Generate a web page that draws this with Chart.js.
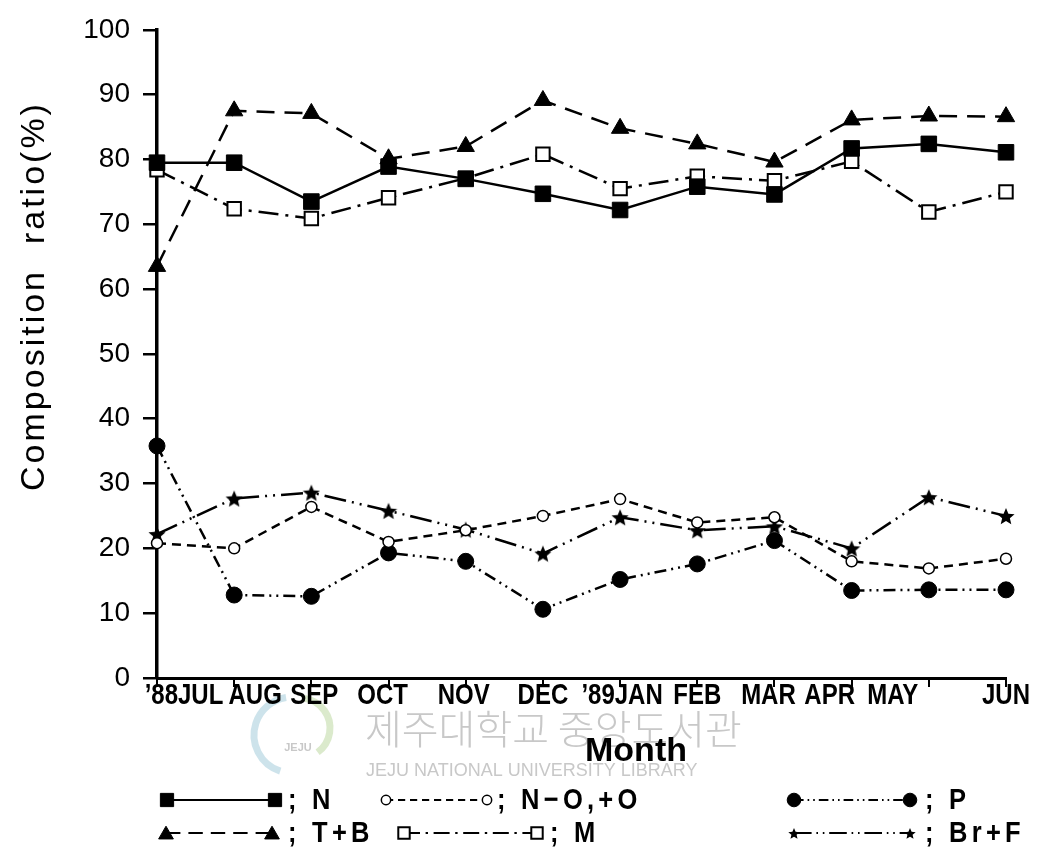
<!DOCTYPE html>
<html>
<head>
<meta charset="utf-8">
<script src="https://cdn.jsdelivr.net/npm/chart.js@4.4.1/dist/chart.umd.min.js"></script>
<style>
  html, body { margin: 0; padding: 0; background: #fff; }
</style>
</head>
<body>
<canvas id="chart" width="1047" height="852"></canvas>
<script>
// values (composition ratio, %)
const months   = ['’88JUL', 'AUG', 'SEP', 'OCT', 'NOV', 'DEC', '’89JAN', 'FEB', 'MAR', 'APR', 'MAY', 'JUN'];
const nValues  = [79.5, 79.5, 73.5, 78.9, 77.0, 74.7, 72.2, 75.8, 74.6, 81.7, 82.4, 81.1];
const tbValues = [63.5, 87.5, 87.1, 80.1, 82.0, 89.1, 84.8, 82.4, 79.6, 86.1, 86.7, 86.6];
const mValues  = [78.4, 72.4, 70.9, 74.1, 77.1, 80.8, 75.5, 77.4, 76.7, 79.7, 71.9, 75.0];
const noValues = [20.8, 20.0, 26.4, 21.0, 22.8, 25.0, 27.6, 24.0, 24.8, 18.0, 16.9, 18.4];
const pValues  = [35.8, 12.8, 12.6, 19.3, 18.0, 10.6, 15.2, 17.6, 21.2, 13.5, 13.6, 13.6];
const bfValues = [22.2, 27.7, 28.6, 25.8, 22.9, 19.2, 24.8, 22.8, 23.4, 20.0, 27.9, 25.0];
const yTicks   = [0, 10, 20, 30, 40, 50, 60, 70, 80, 90, 100];

// the typed month labels sit a little off their ticks in the original
const labelNudge = [27, 21, 3, -6, -2, 0, 2, 0, -6, -22, -36, 0];

const SANS = '"Liberation Sans", Arial, Helvetica, sans-serif';

function makeStar(size) {
  const c = document.createElement('canvas');
  c.width = c.height = size;
  const g = c.getContext('2d');
  const cx = size / 2, cy = size / 2, ro = size / 2, ri = ro * 0.45;
  g.beginPath();
  for (let i = 0; i < 10; i++) {
    const r = i % 2 ? ri : ro;
    const a = -Math.PI / 2 + i * Math.PI / 5;
    g.lineTo(cx + r * Math.cos(a), cy + 1 + r * Math.sin(a));
  }
  g.closePath();
  g.fillStyle = '#000';
  g.fill();
  return c;
}
const star = makeStar(18);
const starSmall = makeStar(12);

function series(label, data, style, radius, fill, dash, borderW) {
  return {
    label, data,
    borderColor: '#000',
    borderWidth: 2.5,
    borderDash: dash,
    tension: 0,
    pointStyle: style,
    pointRadius: radius,
    pointBackgroundColor: fill,
    pointBorderColor: '#000',
    pointBorderWidth: borderW,
  };
}

const datasets = [
  series('N', nValues, 'rect', 11, '#000', [], 1),
  series('T+B', tbValues, 'triangle', 10, '#000', [18, 10], 1),
  series('M', mValues, 'rect', 9.5, '#fff', [20, 7, 3, 7], 2),
  series('N-O,+O', noValues, 'circle', 5.5, '#fff', [9, 6], 1.5),
  series('P', pValues, 'circle', 8, '#000', [12, 5, 2, 5, 2, 5], 1),
  series('Br+F', bfValues, star, 9, '#000', [22, 6, 2, 6, 2, 6], 1),
];

function marker(ctx, ds, x, y, k) {
  const r = ds.pointRadius * k;
  ctx.save();
  ctx.setLineDash([]);
  ctx.fillStyle = ds.pointBackgroundColor;
  ctx.strokeStyle = '#000';
  ctx.lineWidth = ds.pointBorderWidth;
  if (ds.pointStyle === star) {
    ctx.drawImage(starSmall, x - 6, y - 6);
  } else {
    ctx.beginPath();
    if (ds.pointStyle === 'rect') {
      const s = r * Math.SQRT1_2;
      ctx.rect(x - s, y - s, 2 * s, 2 * s);
    } else if (ds.pointStyle === 'triangle') {
      for (let i = 0; i < 3; i++) {
        const a = -Math.PI / 2 + i * 2 * Math.PI / 3;
        ctx.lineTo(x + r * Math.cos(a), y + r * Math.sin(a) + r * 0.2);
      }
      ctx.closePath();
    } else {
      ctx.arc(x, y, r, 0, Math.PI * 2);
    }
    ctx.fill();
    ctx.stroke();
  }
  ctx.restore();
}

// legend rows: [dataset index, line start, line end, text x, row y, text]
const legendItems = [
  [0, 167, 275, 288, 800, '; N'],
  [3, 386, 487, 497, 800, '; N−O,+O'],
  [4, 794, 910, 925, 800, '; P'],
  [1, 166, 272, 288, 833, '; T+B'],
  [2, 404, 537, 550, 833, '; M'],
  [5, 794, 910, 925, 833, '; Br+F'],
];

// draws text squeezed horizontally, like the condensed type of the scan
function narrowText(ctx, text, x, y, sx, align) {
  ctx.save();
  ctx.translate(x, y);
  ctx.scale(sx, 1);
  ctx.textAlign = align;
  ctx.fillText(text, 0, 0);
  ctx.restore();
}

const decor = {
  id: 'decor',
  beforeDraw(chart) {
    const ctx = chart.ctx;
    ctx.save();
    // faint library watermark from the scan
    ctx.globalAlpha = 0.5;
    ctx.strokeStyle = '#9cc7d8';
    ctx.lineWidth = 7;
    ctx.beginPath();
    ctx.arc(292, 735, 38, Math.PI * 0.6, Math.PI * 1.45);
    ctx.stroke();
    ctx.strokeStyle = '#b7d69a';
    ctx.beginPath();
    ctx.arc(300, 728, 30, Math.PI * 1.55, Math.PI * 0.3);
    ctx.stroke();
    ctx.globalAlpha = 1;
    ctx.fillStyle = '#c8c8c8';
    ctx.font = '300 40px "Noto Sans CJK KR", sans-serif';
    ctx.textAlign = 'left';
    ctx.textBaseline = 'middle';
    ctx.fillText('제주대학교 중앙도서관', 365, 729);
    ctx.font = '18px ' + SANS;
    ctx.fillText('JEJU NATIONAL UNIVERSITY LIBRARY', 366, 771);
    ctx.font = 'bold 11px ' + SANS;
    ctx.textAlign = 'center';
    ctx.fillText('JEJU', 298, 748);
    ctx.restore();
  },
  afterDraw(chart) {
    const ctx = chart.ctx;
    const xs = chart.scales.x;
    ctx.save();
    ctx.fillStyle = '#000';
    // month labels under the ticks
    ctx.font = 'bold 30px ' + SANS;
    ctx.textBaseline = 'alphabetic';
    chart.data.labels.forEach((lab, i) => {
      narrowText(ctx, lab, xs.getPixelForValue(i) + labelNudge[i], 704, 0.8, 'center');
    });
    // axis titles
    ctx.textAlign = 'center';
    ctx.textBaseline = 'middle';
    ctx.font = 'bold 34px ' + SANS;
    ctx.fillText('Month', 636, 752);
    ctx.save();
    ctx.translate(35, 296);
    ctx.rotate(-Math.PI / 2);
    ctx.font = '34px ' + SANS;
    ctx.letterSpacing = '3px';
    ctx.fillText('Composition  ratio(%)', 0, 0);
    ctx.restore();
    // legend
    ctx.font = 'bold 30px ' + SANS;
    ctx.textBaseline = 'middle';
    for (const [i, x1, x2, tx, y, text] of legendItems) {
      const ds = chart.data.datasets[i];
      ctx.save();
      ctx.strokeStyle = '#000';
      ctx.lineWidth = 2;
      ctx.setLineDash(ds.borderDash.map(v => v * 0.8));
      ctx.beginPath();
      ctx.moveTo(x1, y);
      ctx.lineTo(x2, y);
      ctx.stroke();
      ctx.restore();
      marker(ctx, ds, x1, y, 0.85);
      marker(ctx, ds, x2, y, 0.85);
      ctx.save();
      ctx.letterSpacing = '5px';
      narrowText(ctx, text, tx, y + 1, 0.85, 'left');
      ctx.restore();
    }
    ctx.restore();
  }
};

new Chart(document.getElementById('chart'), {
  type: 'line',
  data: { labels: months, datasets },
  options: {
    responsive: false,
    animation: false,
    layout: { padding: { top: 17, right: 41, left: 0, bottom: 0 } },
    plugins: { legend: { display: false }, tooltip: { enabled: false } },
    scales: {
      x: {
        offset: false,
        grid: { drawOnChartArea: false, drawTicks: true, tickLength: 9, color: '#000', lineWidth: 2 },
        border: { display: true, color: '#000', width: 3 },
        ticks: { display: false, autoSkip: false },
        afterFit: s => { s.height = 852 - 678; }
      },
      y: {
        min: 0, max: 100,
        afterBuildTicks: s => { s.ticks = yTicks.map(v => ({ value: v })); },
        grid: { drawOnChartArea: false, drawTicks: true, tickLength: 14, color: '#000', lineWidth: 2.5 },
        border: { display: true, color: '#000', width: 3.5 },
        ticks: { padding: 13, color: '#000', font: { family: SANS, size: 28 } },
        afterFit: s => { s.width = 157; }
      }
    }
  },
  plugins: [decor]
});
</script>
</body>
</html>
